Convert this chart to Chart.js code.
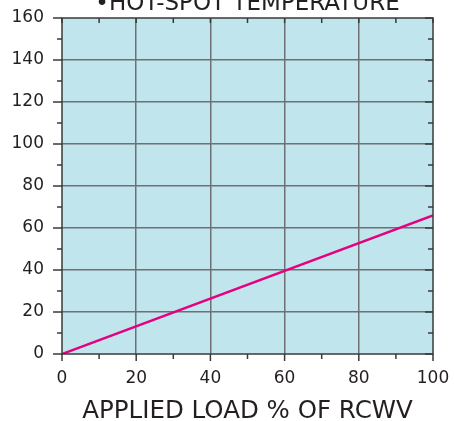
<!DOCTYPE html>
<html>
<head>
<meta charset="utf-8">
<title>Hot-spot temperature</title>
<script src="https://cdn.jsdelivr.net/npm/chart.js@4.4.1/dist/chart.umd.min.js"></script>
<style>
  html, body { margin: 0; padding: 0; background: #ffffff; }
  #chart { display: block; }
</style>
</head>
<body>
<canvas id="chart" width="454" height="421"></canvas>
<script>
// Chart data
const loadPercent = [0, 100];
const temperatureRise = [0, 66];
const xMin = 0, xMax = 100, xStep = 10;
const yMin = 0, yMax = 160, yStep = 10;
const labelEvery = 20;

const chartTitle = '\u2022HOT-SPOT TEMPERATURE';
const xTitle = 'APPLIED LOAD % OF RCWV';

const FONT = "'DejaVu Sans', Verdana, sans-serif";
const TEXT_COLOR = '#231f20';
const GRID_COLOR = '#6d7173';
const FRAME_COLOR = '#3a3a3a';

function isMajor(value) {
  return Math.round(value) % labelEvery === 0;
}

// Plot background, frame, tick marks and the (top-cropped) title
const framePlugin = {
  id: 'frame',
  beforeDraw(chart) {
    const { ctx, chartArea: a } = chart;
    ctx.save();
    ctx.fillStyle = '#c1e5ed';
    ctx.fillRect(a.left, a.top, a.right - a.left, a.bottom - a.top);
    ctx.restore();
  },
  afterDraw(chart) {
    const { ctx, chartArea: a, scales } = chart;
    ctx.save();
    ctx.strokeStyle = FRAME_COLOR;
    ctx.lineWidth = 1.5;
    ctx.strokeRect(a.left, a.top, a.right - a.left, a.bottom - a.top);

    ctx.beginPath();
    for (let v = xMin; v <= xMax; v += xStep) {
      const px = scales.x.getPixelForValue(v);
      const len = isMajor(v) ? 7 : 5;
      ctx.moveTo(px, a.bottom);
      ctx.lineTo(px, a.bottom + len);   // bottom: outward
      ctx.moveTo(px, a.top);
      ctx.lineTo(px, a.top + 5);        // top: inward
    }
    for (let v = yMin; v <= yMax; v += yStep) {
      const py = scales.y.getPixelForValue(v);
      ctx.moveTo(a.left, py);
      ctx.lineTo(a.left - (isMajor(v) ? 9 : 5), py);   // left: outward
      ctx.moveTo(a.right, py);
      ctx.lineTo(a.right - (isMajor(v) ? 8 : 5), py);  // right: inward
    }
    ctx.stroke();

    ctx.fillStyle = TEXT_COLOR;
    ctx.font = '23px ' + FONT;
    ctx.textAlign = 'center';
    ctx.textBaseline = 'alphabetic';
    ctx.fillText(chartTitle, (a.left + a.right) / 2, 10);
    ctx.restore();
  }
};

const ctx = document.getElementById('chart').getContext('2d');

new Chart(ctx, {
  type: 'line',
  data: {
    datasets: [{
      data: loadPercent.map((x, i) => ({ x: x, y: temperatureRise[i] })),
      borderColor: '#e4007f',
      borderWidth: 2.5,
      pointRadius: 0,
      fill: false,
      tension: 0
    }]
  },
  options: {
    responsive: false,
    animation: false,
    events: [],
    layout: {
      padding: { top: 18, right: 21, bottom: 0, left: 0 }
    },
    plugins: {
      legend: { display: false },
      tooltip: { enabled: false }
    },
    scales: {
      x: {
        type: 'linear',
        min: xMin,
        max: xMax,
        border: { display: false },
        grid: {
          drawTicks: false,
          lineWidth: 1.5,
          color: c => (isMajor(c.tick.value) && c.tick.value > xMin && c.tick.value < xMax) ? GRID_COLOR : 'transparent'
        },
        ticks: {
          stepSize: xStep,
          padding: 14,
          maxRotation: 0,
          autoSkip: false,
          color: TEXT_COLOR,
          font: { family: FONT, size: 17 },
          callback: v => isMajor(v) ? String(v) : ''
        },
        title: {
          display: true,
          text: xTitle,
          color: TEXT_COLOR,
          font: { family: FONT, size: 24.5, lineHeight: 0.8 },
          padding: 0
        },
        // fixed axis box; tick padding would otherwise push the plot area in
        afterFit: scale => {
          scale.height = 67;
          scale.paddingLeft = 0;
          scale.paddingRight = 0;
        }
      },
      y: {
        type: 'linear',
        min: yMin,
        max: yMax,
        border: { display: false },
        grid: {
          drawTicks: false,
          lineWidth: 1.5,
          color: c => (isMajor(c.tick.value) && c.tick.value > yMin && c.tick.value < yMax) ? GRID_COLOR : 'transparent'
        },
        ticks: {
          stepSize: yStep,
          padding: 18,
          autoSkip: false,
          color: TEXT_COLOR,
          font: { family: FONT, size: 17 },
          callback: v => isMajor(v) ? String(v) : ''
        },
        afterFit: scale => {
          scale.width = 62;
          scale.paddingTop = 0;
          scale.paddingBottom = 0;
        }
      }
    }
  },
  plugins: [framePlugin]
});
</script>
</body>
</html>
